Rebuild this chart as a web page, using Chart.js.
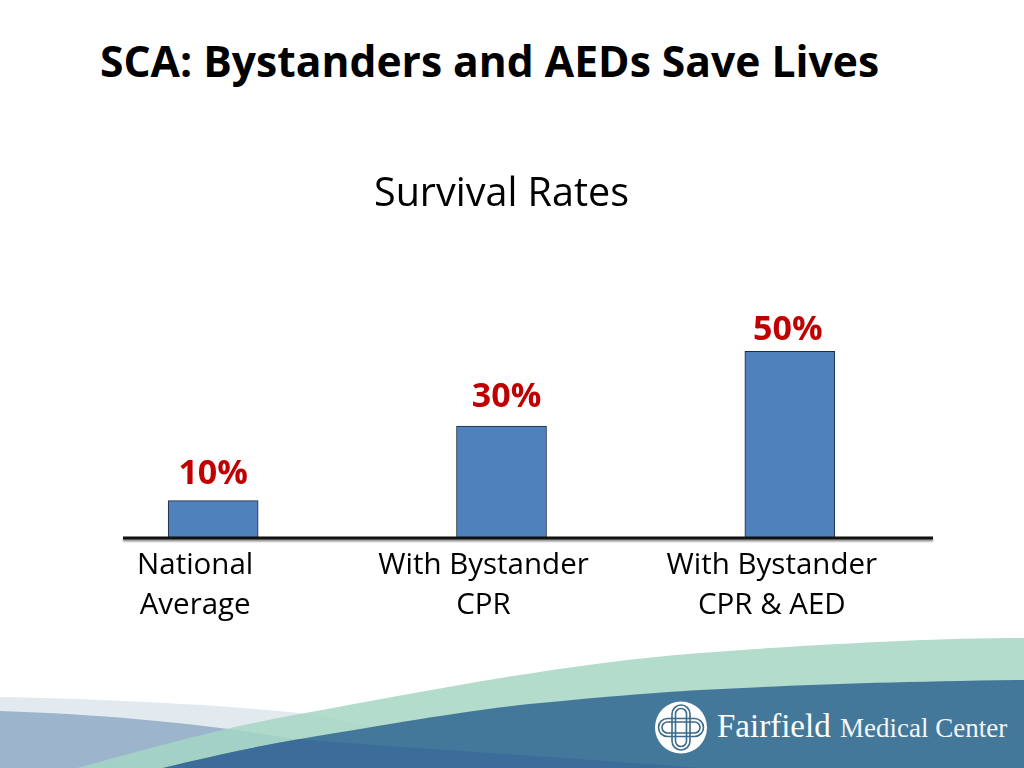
<!DOCTYPE html>
<html>
<head>
<meta charset="utf-8">
<title>SCA: Bystanders and AEDs Save Lives</title>
<script src="https://cdn.jsdelivr.net/npm/chart.js@4.4.1/dist/chart.umd.min.js"></script>
<style>
    html, body { margin: 0; padding: 0; background: #fff; overflow: hidden; }
    .slide { position: relative; width: 1024px; height: 768px; }
    .slide-title {
        position: absolute; left: 100px; top: 39px; margin: 0;
        font: bold 42.6px/1 "Open Sans", Lato, sans-serif; color: #000; white-space: nowrap;
    }
    .waves { position: absolute; left: 0; top: 0; }
    .chart-box { position: absolute; left: 0; top: 0; width: 1024px; height: 768px; }
</style>
</head>
<body>
<div class="slide">
    <svg class="waves" width="1024" height="768" viewBox="0 0 1024 768">
        <path d="M0,697 C110,699 220,705 300,713 C360,720 420,738 470,768 L0,768 Z" fill="#e2eaf0"/>
        <path d="M0,711 C120,715 220,726 300,740 C380,752 460,762 520,768 L0,768 Z" fill="#9db4cd"/>
        <path d="M77,768 C150,748 220,728 300,714 C420,692 560,664 700,653 C820,644 940,638 1024,638 L1024,768 Z" fill="#a6d6c3" fill-opacity="0.85"/>
        <path d="M163,768 C220,754 260,746 300,739 C400,722 460,712 520,705 C600,697 650,693 700,690 C800,685 880,682 1024,680 L1024,768 Z" fill="#44789b"/>
        <path d="M163,768 C220,754 260,746 300,739 C400,748 520,754 700,768 Z" fill="#37669a" fill-opacity="0.7"/>
        <!-- logo mark -->
        <circle cx="681" cy="727.5" r="26" fill="#fff"/>
        <g fill="none" stroke="#3a6a8c" stroke-width="1.6">
            <rect x="672" y="705" width="18" height="45" rx="9"/>
            <rect x="675.5" y="708.5" width="11" height="38" rx="5.5"/>
            <rect x="658.5" y="718.5" width="45" height="18" rx="9"/>
            <rect x="662" y="722" width="38" height="11" rx="5.5"/>
        </g>
        <text x="717" y="737" fill="#fff" font-family="'Liberation Serif', 'DejaVu Serif', serif" font-size="33">Fairfield</text>
        <text x="840" y="737" fill="#f2f6f8" font-family="'Liberation Serif', 'DejaVu Serif', serif" font-size="27">Medical Center</text>
    </svg>
    <h1 class="slide-title">SCA: Bystanders and AEDs Save Lives</h1>
    <div class="chart-box"><canvas id="survival-chart"></canvas></div>
</div>

<script>
/* ============================================
   SCA survival rates — bar chart slide
   ============================================ */

const CHART_TITLE = "Survival Rates";
const categories = [
    ["National", "Average"],
    ["With Bystander", "CPR"],
    ["With Bystander", "CPR & AED"],
];
const survivalRates = [10, 30, 50]; // percent
const Y_MAX = 60;

const FONT = "'Open Sans', Lato, sans-serif";
const BAR_BLUE = "#4f81bd";
const LABEL_RED = "#c00000";
// the value labels on the slide were placed by hand, so each sits a bit differently
const LABEL_NUDGE = [{ dx: 0, dy: 17 }, { dx: 5, dy: 19 }, { dx: -2, dy: 11 }];

// ---- Plugins ----

// value labels above each bar, e.g. "30%"
const valueLabels = {
    id: "valueLabels",
    afterDatasetsDraw(chart) {
        const { ctx } = chart;
        const meta = chart.getDatasetMeta(0);
        ctx.save();
        ctx.font = `bold 34px ${FONT}`;
        ctx.fillStyle = LABEL_RED;
        ctx.textAlign = "center";
        ctx.textBaseline = "alphabetic";
        meta.data.forEach((bar, i) => {
            const nudge = LABEL_NUDGE[i] || { dx: 0, dy: 11 };
            ctx.fillText(`${survivalRates[i]}%`, bar.x + nudge.dx, bar.y - nudge.dy);
        });
        ctx.restore();
    },
};

// heavy base line with a soft shadow, drawn over the bar bottoms
const baseLine = {
    id: "baseLine",
    afterDatasetsDraw(chart) {
        const { ctx } = chart;
        const y = chart.scales.y.getPixelForValue(0);
        ctx.save();
        ctx.strokeStyle = "#111";
        ctx.lineWidth = 3;
        ctx.shadowColor = "rgba(0,0,0,0.45)";
        ctx.shadowOffsetY = 2;
        ctx.shadowBlur = 2;
        ctx.beginPath();
        ctx.moveTo(123, y);
        ctx.lineTo(933, y);
        ctx.stroke();
        ctx.restore();
    },
};

// ---- Chart ----

document.addEventListener("DOMContentLoaded", () => {
    const ctx = document.getElementById("survival-chart").getContext("2d");
    new Chart(ctx, {
        type: "bar",
        data: {
            labels: categories,
            datasets: [{
                data: survivalRates,
                backgroundColor: BAR_BLUE,
                borderColor: "#1d2b40",
                borderWidth: 1,
                barThickness: 90,
            }],
        },
        options: {
            responsive: true,
            maintainAspectRatio: false,
            animation: false,
            layout: { padding: { left: 69, right: 90, top: 0, bottom: 134 } },
            plugins: {
                legend: { display: false },
                tooltip: { enabled: false },
                title: {
                    display: true,
                    text: CHART_TITLE,
                    color: "#000",
                    font: { family: FONT, size: 39.5, weight: "normal", lineHeight: 1.2 },
                    padding: { top: 171, bottom: 95.6 },
                },
            },
            scales: {
                x: {
                    grid: { display: false, drawTicks: false },
                    border: { display: false },
                    ticks: {
                        color: "#000",
                        padding: 8,
                        labelOffset: -18,
                        maxRotation: 0,
                        font: { family: FONT, size: 29.5, lineHeight: "40px" },
                    },
                },
                y: {
                    display: false,
                    min: 0,
                    max: Y_MAX,
                },
            },
        },
        plugins: [valueLabels, baseLine],
    });
});
</script>
</body>
</html>
